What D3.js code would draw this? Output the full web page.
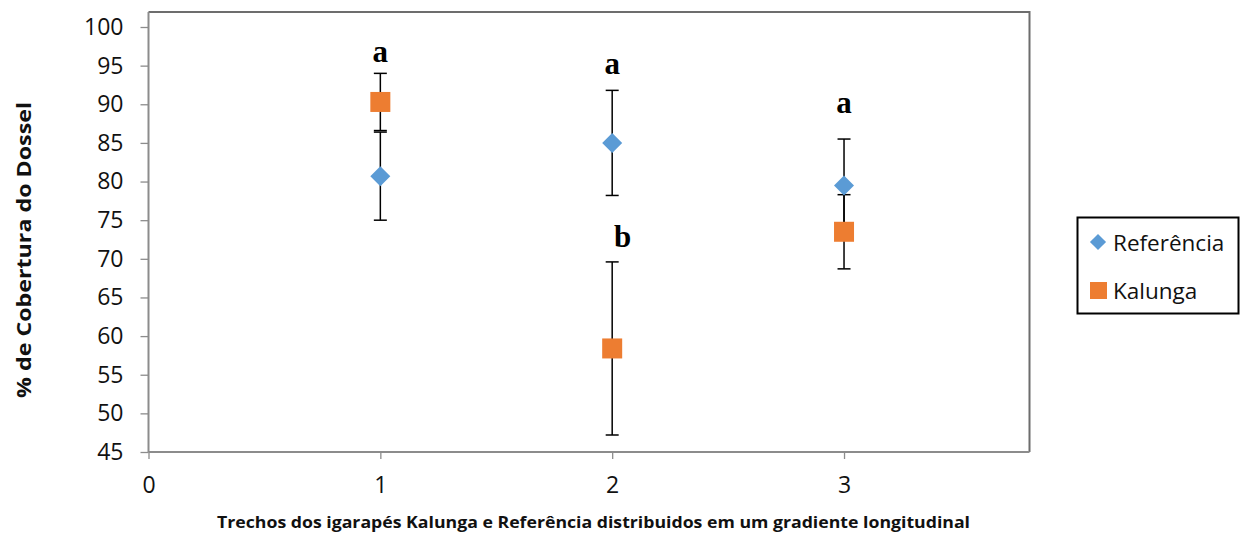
<!DOCTYPE html>
<html>
<head>
<meta charset="utf-8">
<script src="https://cdn.jsdelivr.net/npm/d3@7"></script>
<style>
  html, body { margin: 0; padding: 0; background: #fff; }
  svg { display: block; }
</style>
</head>
<body>
<svg id="chart" width="1246" height="536"></svg>
<script>
// Canopy cover (%) along the stream stretches
const stretches = [1, 2, 3];
const referenciaMean = [80.7, 85.0, 79.5];
const referenciaErr  = [5.7, 6.8, 6.0];
const kalungaMean    = [90.3, 58.4, 73.5];
const kalungaErr     = [3.7, 11.2, 4.8];
// Significance letters and the value they sit at
const letters  = ["a", "a", "a", "b"];
const letterX  = [1, 2, 3, 2.045];
const letterY  = [95.5, 93.9, 88.9, 71.5];
const yTicks = [45, 50, 55, 60, 65, 70, 75, 80, 85, 90, 95, 100];
const xTicks = [0, 1, 2, 3];
const seriesNames = ["Referência", "Kalunga"];
const colors = ["#5B9BD5", "#ED7D31"];

const svg = d3.select("#chart");
const plotLeft = 148.5, plotRight = 1029.5, plotTop = 12, plotBottom = 452;

const x = d3.scaleLinear().domain([0, 3.8]).range([plotLeft, plotRight]);
const y = d3.scaleLinear().domain([45, 100]).range([plotBottom, 27]);

const font = "'Open Sans', Lato, sans-serif";

// Plot frame (top and right edges)
svg.append("path")
  .attr("d", `M${plotLeft},${plotTop}H${plotRight}V${plotBottom}`)
  .attr("fill", "none").attr("stroke", "#6d6d6d").attr("stroke-width", 2);

// Y axis
const yAxis = svg.append("g").attr("transform", `translate(${plotLeft},0)`)
  .call(d3.axisLeft(y).tickValues(yTicks).tickSize(8).tickPadding(17).tickSizeOuter(0));
yAxis.select(".domain").attr("d", `M0,${plotTop}V${plotBottom}`).attr("stroke", "#8c8c8c").attr("stroke-width", 2);
yAxis.selectAll(".tick line").attr("stroke", "#8c8c8c").attr("stroke-width", 1.3);
yAxis.selectAll(".tick text").attr("font-family", font).attr("font-size", 23).attr("fill", "#111");

// X axis
const xAxis = svg.append("g").attr("transform", `translate(0,${plotBottom})`)
  .call(d3.axisBottom(x).tickValues(xTicks).tickFormat(d3.format("d")).tickSize(7).tickPadding(18).tickSizeOuter(0));
xAxis.select(".domain").attr("d", `M${plotLeft},0H${plotRight}`).attr("stroke", "#8c8c8c").attr("stroke-width", 2);
xAxis.selectAll(".tick line").attr("stroke", "#8c8c8c").attr("stroke-width", 1.3);
xAxis.selectAll(".tick text").attr("font-family", font).attr("font-size", 23).attr("fill", "#111");

// Axis titles
svg.append("text")
  .attr("x", 593.5).attr("y", 528)
  .attr("text-anchor", "middle")
  .attr("font-family", font).attr("font-weight", "bold").attr("font-size", 16)
  .attr("textLength", 753).attr("lengthAdjust", "spacingAndGlyphs")
  .attr("fill", "#111")
  .text("Trechos dos igarapés Kalunga e Referência distribuidos em um gradiente longitudinal");

svg.append("text")
  .attr("transform", "translate(31,250) rotate(-90)")
  .attr("text-anchor", "middle")
  .attr("font-family", font).attr("font-weight", "bold").attr("font-size", 19)
  .attr("textLength", 296).attr("lengthAdjust", "spacingAndGlyphs")
  .attr("fill", "#111")
  .text("% de Cobertura do Dossel");

// Error bars
const series = [
  { mean: referenciaMean, err: referenciaErr },
  { mean: kalungaMean, err: kalungaErr }
];
const capHalf = 6.5;
series.forEach(s => {
  const g = svg.append("g");
  stretches.forEach((st, i) => {
    const cx = x(st), hi = y(s.mean[i] + s.err[i]), lo = y(s.mean[i] - s.err[i]);
    g.append("line").attr("x1", cx).attr("x2", cx).attr("y1", hi).attr("y2", lo)
      .attr("stroke", "#000").attr("stroke-width", 1.5);
    [hi, lo].forEach(yy => g.append("line")
      .attr("x1", cx - capHalf).attr("x2", cx + capHalf).attr("y1", yy).attr("y2", yy)
      .attr("stroke", "#000").attr("stroke-width", 1.5));
  });
});

// Markers
const diamond = d3.symbol().type(d3.symbolSquare).size(200);
svg.append("g").selectAll("path").data(stretches).join("path")
  .attr("d", diamond)
  .attr("transform", (d, i) => `translate(${x(d)},${y(referenciaMean[i])}) rotate(45)`)
  .attr("fill", colors[0]);

svg.append("g").selectAll("rect").data(stretches).join("rect")
  .attr("x", d => x(d) - 10).attr("width", 20)
  .attr("y", (d, i) => y(kalungaMean[i]) - 10).attr("height", 20)
  .attr("fill", colors[1]);

// Significance letters
svg.append("g").selectAll("text").data(letters).join("text")
  .attr("x", (d, i) => x(letterX[i])).attr("y", (d, i) => y(letterY[i]))
  .attr("text-anchor", "middle")
  .attr("font-family", "'Liberation Serif', 'Times New Roman', serif")
  .attr("font-weight", "bold").attr("font-size", 31)
  .attr("fill", "#000")
  .text(d => d);

// Legend
const lg = svg.append("g");
lg.append("rect").attr("x", 1077.5).attr("y", 217.5).attr("width", 161).attr("height", 96)
  .attr("fill", "#fff").attr("stroke", "#000").attr("stroke-width", 2);
lg.append("path").attr("d", d3.symbol().type(d3.symbolSquare).size(130))
  .attr("transform", "translate(1098,242) rotate(45)").attr("fill", colors[0]);
lg.append("rect").attr("x", 1090).attr("y", 282).attr("width", 17).attr("height", 17).attr("fill", colors[1]);
lg.selectAll("text.lbl").data(seriesNames).join("text")
  .attr("class", "lbl")
  .attr("x", 1113).attr("y", (d, i) => [250.5, 298.5][i])
  .attr("font-family", font).attr("font-size", 22.5).attr("fill", "#111")
  .text(d => d);
</script>
</body>
</html>
